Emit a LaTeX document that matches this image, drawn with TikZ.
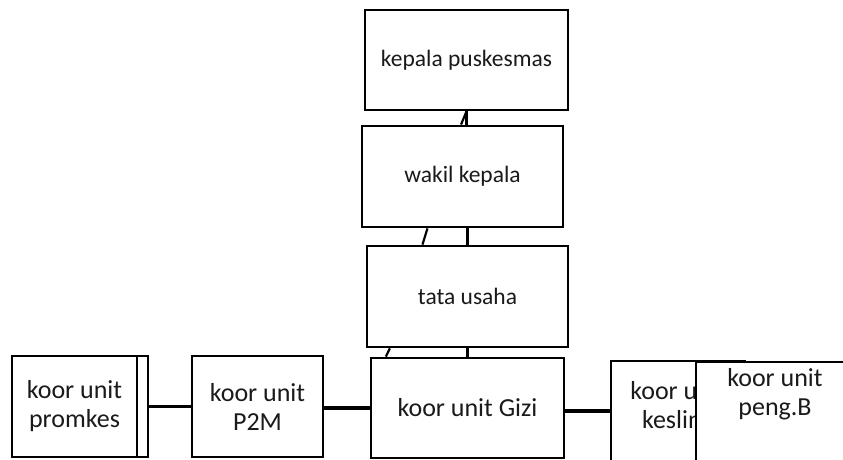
\documentclass[tikz,border=0pt]{standalone}
\usepackage{fontspec}
\setmainfont{Carlito}
\usetikzlibrary{calc}
\definecolor{txt}{HTML}{1A1A1A}
\begin{document}
\begin{tikzpicture}[x=1pt,y=-1pt,
  box/.style={draw=black,line width=2.8pt,fill=white,inner sep=0pt,rectangle,text=txt},
  topbox/.style={box,font=\fontsize{23.5}{28}\selectfont},
  lowbox/.style={box,font=\fontsize{26}{29}\selectfont,align=center},
  lbl/.style={inner sep=0pt,text=txt,font=\fontsize{26}{29}\selectfont,align=center},
  conn/.style={line width=2.6pt}]
\useasboundingbox (0,0) rectangle (843,459);
\clip (0,0) rectangle (843,459);
% top chain
\node[topbox,minimum width=203pt,minimum height=100pt] (kp) at (466.5,60) {kepala puskesmas};
\node[topbox,minimum width=201pt,minimum height=101pt] (wk) at (462.5,176.5) {wakil kepala};
\node[topbox,minimum width=201pt,minimum height=101pt] (tu) at (467.5,296.5) {tata usaha};
\node[lowbox,minimum width=193pt,minimum height=100pt] (gz) at (467.5,408) {koor unit Gizi};
% left boxes
\node[lowbox,minimum width=125pt,minimum height=101pt] (pm) at (74.5,406.5) {koor unit\\promkes};
\node[box,minimum width=11pt,minimum height=101pt] (pms) at (142.5,406.5) {};
\node[lowbox,minimum width=131pt,minimum height=101pt] (p2) at (257.5,406.5) {koor unit\\P2M};
% right boxes
\node[box,line width=2.2pt,minimum width=134pt,minimum height=120pt] (ks) at (678,421) {};
\node[lbl] (kst) at (678,407) {koor unit\\kesling};
% connectors
\draw[conn] (kp.south) -- (kp.south |- wk.north);
\draw[conn,line width=2.2pt] (kp.south) -- ($(wk.north)+(-1.5,0)$);
\draw[conn] (tu.north |- wk.south) -- (tu.north);
\draw[conn,line width=2.2pt] ($(wk.south west)!0.328!(wk.south east)$) -- ($(tu.north west)!0.279!(tu.north east)$);
\draw[conn] (tu.south) -- (gz.north);
\draw[conn,line width=2.2pt] ($(tu.south west)!0.119!(tu.south east)$) -- ($(gz.north west)!0.083!(gz.north east)$);
\draw[conn,line width=2.8pt] (pms.east) -- (p2.west);
\draw[conn,line width=3.8pt] (p2.east |- gz.west) -- (gz.west);
\coordinate (gk) at ($(gz.east)+(0,3)$);
\draw[conn,line width=3.6pt] (gk) -- (gk -| ks.west);
% overlapping box on top
\node[box,line width=2.2pt,minimum width=164pt,minimum height=120pt] (pb) at (778,422) {};
\node[lbl] (pbt) at (775,394) {koor unit\\peng.B};
\end{tikzpicture}
\end{document}
